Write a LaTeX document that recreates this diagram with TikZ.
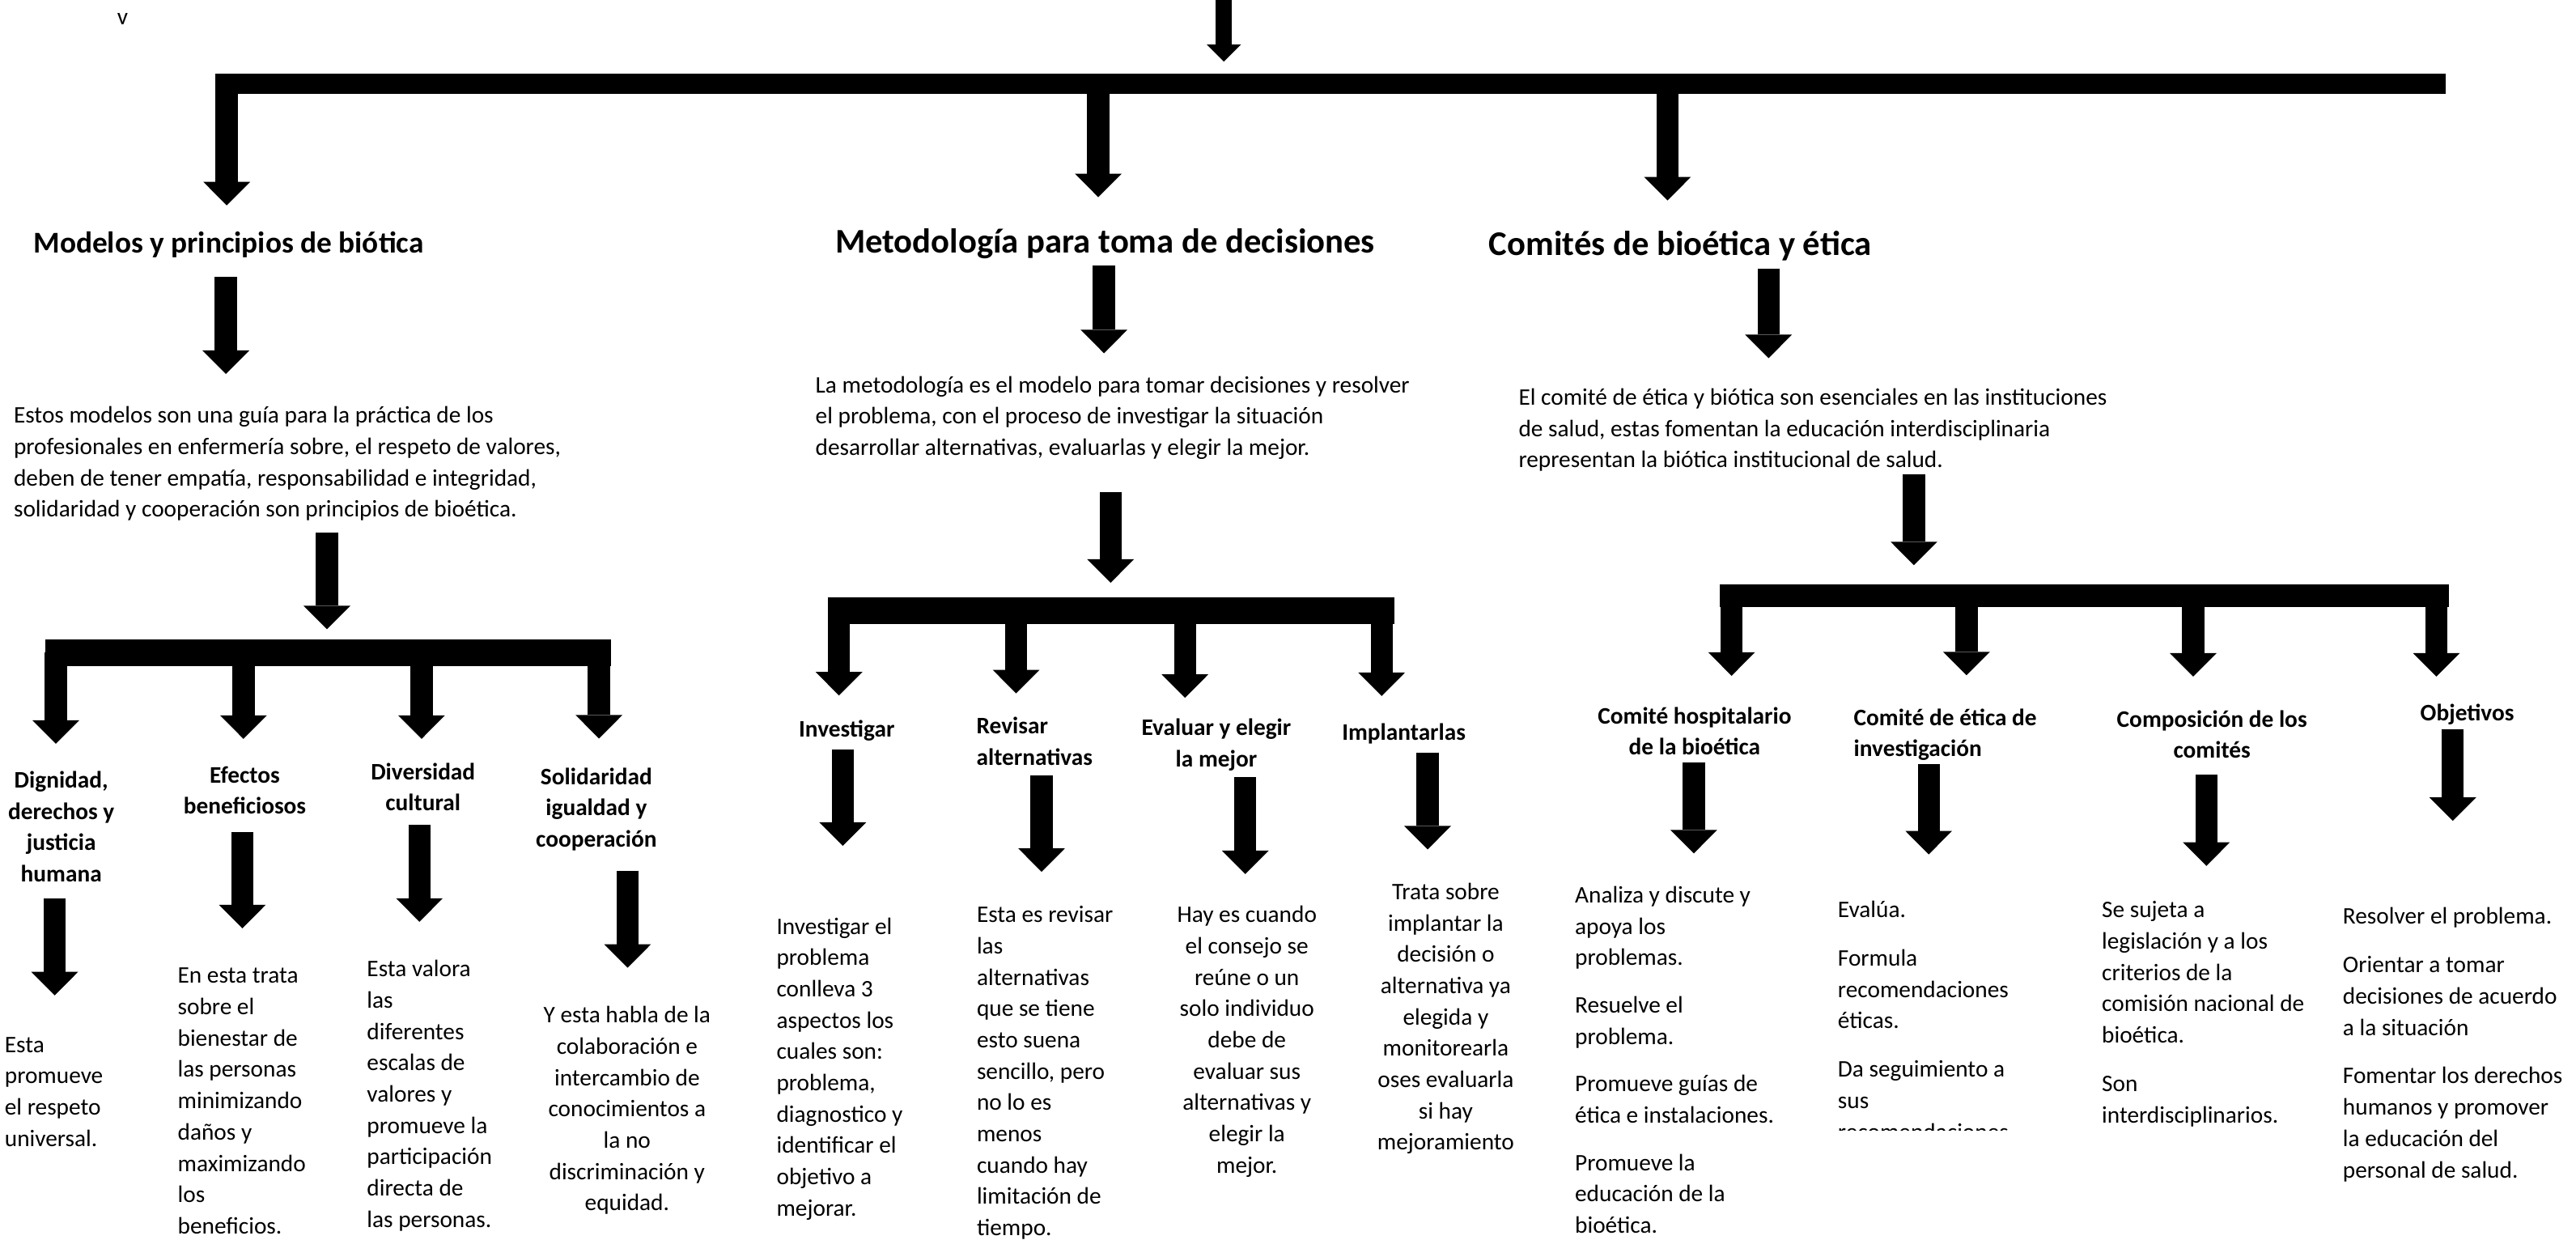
\documentclass[tikz,border=0pt]{standalone}
\usepackage{fontspec}
\setmainfont{Carlito}
\usetikzlibrary{arrows.meta}
\newcommand\tabL[1]{\begin{tabular}[t]{@{}l@{}}#1\end{tabular}}
\newcommand\tabC[1]{\begin{tabular}[t]{@{}c@{}}#1\end{tabular}}
\begin{document}
\begin{tikzpicture}[x=0.5075pt,y=-0.5075pt,
  body/.style={font=\fontsize{7.33}{9.67}\selectfont, inner sep=0pt, anchor=base west},
  bodyc/.style={body, anchor=base},
  sub/.style={body, font=\fontsize{7.33}{9.67}\selectfont\bfseries},
  subc/.style={bodyc, font=\fontsize{7.33}{9.67}\selectfont\bfseries},
  big/.style={font=\fontsize{10.67}{12}\selectfont\bfseries, inner sep=0pt, anchor=base west},
  mid/.style={font=\fontsize{9.33}{11}\selectfont\bfseries, inner sep=0pt, anchor=base west},
  blk/.style={line width=6.85pt, -{Triangle[width=14.46pt,length=7.26pt,line width=0pt]}},
  thinarr/.style={line width=5.07pt, -{Triangle[width=10.66pt,length=5.33pt,line width=0pt]}},
  barline/.style={line width=#1, line cap=butt}
]
\useasboundingbox (0,0) rectangle (1568,754.7);

\node[body] (v) at (71,15) {v};

% top arrow and main bar
\coordinate (top0) at (745,-3);
\coordinate (top1) at (745,37.5);
\draw[thinarr] (top0) -- (top1);
\coordinate (barL) at (131,51);
\coordinate (barR) at (1488.5,51);
\draw[barline=6.09pt] (barL) -- (barR);

\foreach \n/\x/\ya/\yb in {dM/138/45/125, dT/668.5/51/120, dC/1015/51/122}{
  \coordinate (\n a) at (\x,\ya);
  \coordinate (\n b) at (\x,\yb);
  \draw[blk] (\n a) -- (\n b);
}

% headings
\node[mid] (hM) at (20,154) {Modelos y principios de biótica};
\node[big] (hT) at (508,154) {Metodología para toma de decisiones};
\node[big] (hC) at (906,155.5) {Comités de bioética y ética};

\foreach \n/\x/\ya/\yb in {aM/137.5/168.6/227.6, aT/672/161.5/215, aC/1076.5/163.4/218}{
  \coordinate (\n a) at (\x,\ya);
  \coordinate (\n b) at (\x,\yb);
  \draw[blk] (\n a) -- (\n b);
}

% descriptions
\node[body] (dscM) at (8,257.5) {\tabL{Estos modelos son una guía para la práctica de los\\profesionales en enfermería sobre, el respeto de valores,\\deben de tener empatía, responsabilidad e integridad,\\solidaridad y cooperación son principios de bioética.}};
\node[body] (dscT) at (496,239) {\tabL{La metodología es el modelo para tomar decisiones y resolver\\el problema, con el proceso de investigar la situación\\desarrollar alternativas, evaluarlas y elegir la mejor.}};
\node[body] (dscC) at (924,246.5) {\tabL{El comité de ética y biótica son esenciales en las instituciones\\de salud, estas fomentan la educación interdisciplinaria\\representan la biótica institucional de salud.}};

\foreach \n/\x/\ya/\yb in {eM/199/324/383, eT/676/299.6/354.7, eC/1165/288.7/344}{
  \coordinate (\n a) at (\x,\ya);
  \coordinate (\n b) at (\x,\yb);
  \draw[blk] (\n a) -- (\n b);
}

% sub bars
\coordinate (sbML) at (27.7,397.3);  \coordinate (sbMR) at (372,397.3);
\coordinate (sbTL) at (503.7,371.6); \coordinate (sbTR) at (848.8,371.6);
\coordinate (sbCL) at (1046.7,362.6); \coordinate (sbCR) at (1490.5,362.6);
\draw[barline=8.48pt] (sbML) -- (sbMR);
\draw[barline=8.32pt] (sbTL) -- (sbTR);
\draw[barline=7pt] (sbCL) -- (sbCR);

\foreach \n/\x/\ya/\yb in {
  fMa/34/397/452.7, fMb/148.2/397/449.7, fMc/256.6/397/449.7, fMd/364.6/397/449.5,
  fTa/510.7/371.6/423.3, fTb/618.5/371.6/422, fTc/721.3/371.6/424.7, fTd/841/371.6/423.6,
  fCa/1054/362.6/411.3, fCb/1197/362.6/411, fCc/1335/362.6/411.8, fCd/1483/362.6/411.8}{
  \coordinate (\n a) at (\x,\ya);
  \coordinate (\n b) at (\x,\yb);
  \draw[blk] (\n a) -- (\n b);
}

% sub headings
\node[subc] (sM1) at (37.3,479.5) {\tabC{Dignidad,\\derechos y\\justicia\\humana}};
\node[subc] (sM2) at (149,476.5) {\tabC{Efectos\\beneficiosos}};
\node[subc] (sM3) at (257.5,474.5) {\tabC{Diversidad\\cultural}};
\node[subc] (sM4) at (363,477.5) {\tabC{Solidaridad\\igualdad y\\cooperación}};
\node[subc] (sT1) at (515.4,448.5) {Investigar};
\node[sub]  (sT2) at (594,446.5) {\tabL{Revisar\\alternativas}};
\node[subc] (sT3) at (740.4,447.5) {\tabC{Evaluar y elegir\\la mejor}};
\node[subc] (sT4) at (854.5,450.5) {Implantarlas};
\node[subc] (sC1) at (1031.5,440.5) {\tabC{Comité hospitalario\\de la bioética}};
\node[sub]  (sC2) at (1128,441.5) {\tabL{Comité de ética de\\investigación}};
\node[subc] (sC3) at (1346.4,442.5) {\tabC{Composición de los\\comités}};
\node[subc] (sC4) at (1501.8,438.5) {Objetivos};

\foreach \n/\x/\ya/\yb in {
  gMa/33.3/546.6/605.8, gMb/147.5/506.4/565, gMc/255.3/502/561, gMd/382/530/589,
  gTa/513/456/514.8, gTb/634/472/530.6, gTc/758/473/532, gTd/869/458/517,
  gCa/1031/464/519.4, gCb/1174/465/520, gCc/1343/471.6/527, gCd/1493/444/499.6}{
  \coordinate (\n a) at (\x,\ya);
  \coordinate (\n b) at (\x,\yb);
  \draw[blk] (\n a) -- (\n b);
}

% bodies
\node[body] (bM1) at (2.5,640.5) {\tabL{Esta\\promueve\\el respeto\\universal.}};
\node[body] (bM2) at (107.8,598.5) {\tabL{En esta trata\\sobre el\\bienestar de\\las personas\\minimizando\\daños y\\maximizando\\los\\beneficios.}};
\node[body] (bM3) at (223,594.5) {\tabL{Esta valora\\las\\diferentes\\escalas de\\valores y\\promueve la\\participación\\directa de\\las personas.}};
\node[bodyc] (bM4) at (381.7,622.5) {\tabC{Y esta habla de la\\colaboración e\\intercambio de\\conocimientos a\\la no\\discriminación y\\equidad.}};
\node[body] (bT1) at (472.3,568.5) {\tabL{Investigar el\\problema\\conlleva 3\\aspectos los\\cuales son:\\problema,\\diagnostico y\\identificar el\\objetivo a\\mejorar.}};
\node[body] (bT2) at (594.2,561.5) {\tabL{Esta es revisar\\las\\alternativas\\que se tiene\\esto suena\\sencillo, pero\\no lo es\\menos\\cuando hay\\limitación de\\tiempo.}};
\node[bodyc] (bT3) at (759,561.5) {\tabC{Hay es cuando\\el consejo se\\reúne o un\\solo individuo\\debe de\\evaluar sus\\alternativas y\\elegir la\\mejor.}};
\node[bodyc] (bT4) at (880,547.5) {\tabC{Trata sobre\\implantar la\\decisión o\\alternativa ya\\elegida y\\monitorearla\\oses evaluarla\\si hay\\mejoramiento}};
\node[body] (bC1) at (958.3,549.5) {\tabL{Analiza y discute y\\apoya los\\problemas.\\[5pt]Resuelve el\\problema.\\[5pt]Promueve guías de\\ética e instalaciones.\\[5pt]Promueve la\\educación de la\\bioética.}};
\begin{scope}
\clip (1100,530) rectangle (1270,687.7);
\node[body] (bC2) at (1118.3,558.5) {\tabL{Evalúa.\\[5.3pt]Formula\\recomendaciones\\éticas.\\[5.3pt]Da seguimiento a\\sus\\recomendaciones}};
\end{scope}
\node[body] (bC3) at (1279,558.5) {\tabL{Se sujeta a\\legislación y a los\\criterios de la\\comisión nacional de\\bioética.\\[5.3pt]Son\\interdisciplinarios.}};
\node[body] (bC4) at (1425.7,562.5) {\tabL{Resolver el problema.\\[5.3pt]Orientar a tomar\\decisiones de acuerdo\\a la situación\\[5.3pt]Fomentar los derechos\\humanos y promover\\la educación del\\personal de salud.}};
\end{tikzpicture}
\end{document}
